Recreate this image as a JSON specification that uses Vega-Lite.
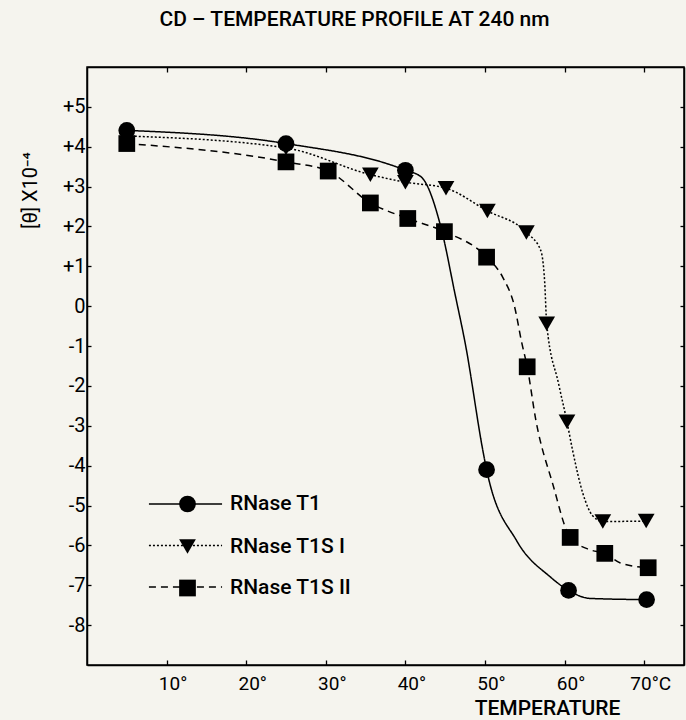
{
  "$schema": "https://vega.github.io/schema/vega-lite/v6.json",
  "width": 597,
  "height": 598,
  "autosize": {"type": "none"},
  "padding": {"left": 87, "top": 67, "right": 2, "bottom": 55},
  "background": "#f5f4ee",
  "config": {
    "font": "Roboto",
    "view": {"stroke": "black", "strokeWidth": 1.5},
    "axis": {"grid": false, "domainColor": "black", "domainWidth": 1.5, "tickColor": "black", "tickWidth": 1.3, "labelColor": "black", "titleColor": "black", "labelFont": "Roboto", "titleFont": "Roboto"}
  },
  "title": {
    "text": "CD – TEMPERATURE PROFILE AT 240 nm",
    "anchor": "middle",
    "dx": -31,
    "offset": 36,
    "fontSize": 21,
    "fontWeight": 500,
    "font": "Roboto",
    "color": "black"
  },
  "datasets": {
    "pts": [
      {"series": "RNase T1S I", "temp": 5, "theta": 4.27},
      {"series": "RNase T1S I", "temp": 25, "theta": 3.97},
      {"series": "RNase T1S I", "temp": 35.6, "theta": 3.3},
      {"series": "RNase T1S I", "temp": 40, "theta": 3.11},
      {"series": "RNase T1S I", "temp": 45.1, "theta": 2.96},
      {"series": "RNase T1S I", "temp": 50.3, "theta": 2.39},
      {"series": "RNase T1S I", "temp": 55.2, "theta": 1.85},
      {"series": "RNase T1S I", "temp": 57.75, "theta": -0.44},
      {"series": "RNase T1S I", "temp": 60.3, "theta": -2.9},
      {"series": "RNase T1S I", "temp": 64.8, "theta": -5.4},
      {"series": "RNase T1S I", "temp": 70.25, "theta": -5.39},
      {"series": "RNase T1S II", "temp": 5, "theta": 4.08},
      {"series": "RNase T1S II", "temp": 25, "theta": 3.62},
      {"series": "RNase T1S II", "temp": 30.3, "theta": 3.39},
      {"series": "RNase T1S II", "temp": 35.6, "theta": 2.59},
      {"series": "RNase T1S II", "temp": 40.3, "theta": 2.2},
      {"series": "RNase T1S II", "temp": 44.9, "theta": 1.87},
      {"series": "RNase T1S II", "temp": 50.2, "theta": 1.23},
      {"series": "RNase T1S II", "temp": 55.3, "theta": -1.52},
      {"series": "RNase T1S II", "temp": 60.7, "theta": -5.8},
      {"series": "RNase T1S II", "temp": 65.05, "theta": -6.2},
      {"series": "RNase T1S II", "temp": 70.5, "theta": -6.56},
      {"series": "RNase T1", "temp": 5, "theta": 4.41},
      {"series": "RNase T1", "temp": 25, "theta": 4.08},
      {"series": "RNase T1", "temp": 40, "theta": 3.41},
      {"series": "RNase T1", "temp": 50.2, "theta": -4.1},
      {"series": "RNase T1", "temp": 60.5, "theta": -7.13},
      {"series": "RNase T1", "temp": 70.3, "theta": -7.36}
    ],
    "curves": [
      {"series": "RNase T1", "temp": 5, "theta": 4.41},
      {"series": "RNase T1", "temp": 25, "theta": 4.08},
      {"series": "RNase T1", "temp": 40, "theta": 3.41},
      {"series": "RNase T1", "temp": 42, "theta": 3.24},
      {"series": "RNase T1", "temp": 44.5, "theta": 1.95},
      {"series": "RNase T1", "temp": 46.25, "theta": 0.29},
      {"series": "RNase T1", "temp": 47.55, "theta": -0.97},
      {"series": "RNase T1", "temp": 49.75, "theta": -3.64},
      {"series": "RNase T1", "temp": 50.2, "theta": -4.1},
      {"series": "RNase T1", "temp": 54, "theta": -5.89},
      {"series": "RNase T1", "temp": 58.2, "theta": -6.79},
      {"series": "RNase T1", "temp": 60.5, "theta": -7.13},
      {"series": "RNase T1", "temp": 63.2, "theta": -7.33},
      {"series": "RNase T1", "temp": 70.3, "theta": -7.36},
      {"series": "RNase T1S I", "temp": 5, "theta": 4.27},
      {"series": "RNase T1S I", "temp": 25, "theta": 3.97},
      {"series": "RNase T1S I", "temp": 35.6, "theta": 3.3},
      {"series": "RNase T1S I", "temp": 40, "theta": 3.11},
      {"series": "RNase T1S I", "temp": 45.1, "theta": 2.96},
      {"series": "RNase T1S I", "temp": 50.3, "theta": 2.39},
      {"series": "RNase T1S I", "temp": 55.2, "theta": 1.85},
      {"series": "RNase T1S I", "temp": 57, "theta": 1.4},
      {"series": "RNase T1S I", "temp": 57.5, "theta": 0.6},
      {"series": "RNase T1S I", "temp": 57.75, "theta": -0.44},
      {"series": "RNase T1S I", "temp": 59.25, "theta": -1.95},
      {"series": "RNase T1S I", "temp": 60.3, "theta": -2.9},
      {"series": "RNase T1S I", "temp": 61, "theta": -3.61},
      {"series": "RNase T1S I", "temp": 62.3, "theta": -4.7},
      {"series": "RNase T1S I", "temp": 63.5, "theta": -5.25},
      {"series": "RNase T1S I", "temp": 64.8, "theta": -5.4},
      {"series": "RNase T1S I", "temp": 70.25, "theta": -5.39},
      {"series": "RNase T1S II", "temp": 5, "theta": 4.08},
      {"series": "RNase T1S II", "temp": 25, "theta": 3.62},
      {"series": "RNase T1S II", "temp": 30.3, "theta": 3.39},
      {"series": "RNase T1S II", "temp": 35.6, "theta": 2.59},
      {"series": "RNase T1S II", "temp": 40.3, "theta": 2.2},
      {"series": "RNase T1S II", "temp": 44.9, "theta": 1.87},
      {"series": "RNase T1S II", "temp": 50.2, "theta": 1.23},
      {"series": "RNase T1S II", "temp": 52.3, "theta": 0.7},
      {"series": "RNase T1S II", "temp": 53.7, "theta": 0},
      {"series": "RNase T1S II", "temp": 54.6, "theta": -0.9},
      {"series": "RNase T1S II", "temp": 55.3, "theta": -1.52},
      {"series": "RNase T1S II", "temp": 56.4, "theta": -2.87},
      {"series": "RNase T1S II", "temp": 58.5, "theta": -4.45},
      {"series": "RNase T1S II", "temp": 60.7, "theta": -5.8},
      {"series": "RNase T1S II", "temp": 63.2, "theta": -6.11},
      {"series": "RNase T1S II", "temp": 65.05, "theta": -6.2},
      {"series": "RNase T1S II", "temp": 67, "theta": -6.44},
      {"series": "RNase T1S II", "temp": 70.5, "theta": -6.56}
    ]
  },
  "resolve": {"axis": {"x": "independent", "y": "independent"}},
  "layer": [
    {
      "mark": {"type": "rule", "color": "black", "strokeWidth": 1.3},
      "encoding": {
        "y": {"datum": 0, "type": "quantitative", "scale": {"domain": [-9, 6]}, "axis": null}
      }
    },
    {
      "data": {"name": "curves"},
      "mark": {"type": "line", "color": "black", "strokeWidth": 1.5, "interpolate": "monotone"},
      "encoding": {
        "x": {"field": "temp", "type": "quantitative", "scale": {"domain": [0, 75], "nice": false},
              "axis": {"orient": "top", "values": [10, 20, 30, 40, 50, 60, 70], "labels": false, "title": null, "tickSize": -5}},
        "y": {"field": "theta", "type": "quantitative", "scale": {"domain": [-9, 6], "nice": false},
              "axis": {"orient": "right", "values": [-8, -7, -6, -5, -4, -3, -2, -1, 0, 1, 2, 3, 4, 5], "labels": false, "title": null, "tickSize": -4}},
        "strokeDash": {
          "field": "series", "type": "nominal",
          "scale": {"range": [[1, 0], [2, 2], [7, 5]]},
          "legend": {"orient": "none", "legendX": 88, "legendY": 426.6, "title": null, "symbolType": "M-4.37,0H4.37",
                     "symbolSize": 280, "symbolStrokeWidth": 1.5, "symbolStrokeColor": "black",
                     "labelExpr": "''", "labelFontSize": 21, "rowPadding": 19.5, "padding": 0}
        }
      }
    },
    {
      "data": {"name": "pts"},
      "mark": {"type": "point", "filled": true, "color": "black", "opacity": 1, "size": 280},
      "encoding": {
        "x": {"field": "temp", "type": "quantitative", "scale": {"domain": [0, 75], "nice": false},
              "axis": {"orient": "bottom", "values": [10, 20, 30, 40, 50, 60, 70], "tickSize": -5,
                       "labelExpr": "datum.value == 70 ? '70°C' : datum.value + '°'", "labelFontSize": 19,
                       "labelAlign": "center", "labelOffset": 6, "labelPadding": 14,
                       "title": "TEMPERATURE", "titleFontSize": 21, "titleFontWeight": 500,
                       "titleX": 460, "titleY": 49, "titleBaseline": "alphabetic", "titleAlign": "center"}},
        "y": {"field": "theta", "type": "quantitative", "scale": {"domain": [-9, 6], "nice": false},
              "axis": {"orient": "left", "values": [-8, -7, -6, -5, -4, -3, -2, -1, 0, 1, 2, 3, 4, 5], "tickSize": -4,
                       "labelExpr": "datum.value > 0 ? '+' + datum.value : (datum.value < 0 ? '-' + abs(datum.value) : '0')",
                       "labelFontSize": 20, "labelPadding": 6,
                       "title": "[θ] X10⁻⁴", "titleFontSize": 20, "titleFontWeight": "normal",
                       "titleX": -57, "titleY": 123, "titleAngle": 270, "titleAlign": "center", "titleBaseline": "middle"}},
        "shape": {
          "field": "series", "type": "nominal",
          "scale": {"range": ["circle", "triangle-down", "square"]},
          "legend": {"orient": "none", "legendX": 90, "legendY": 426.5, "title": null,
                     "symbolSize": 280, "symbolFillColor": "black", "symbolStrokeColor": "black", "symbolOpacity": 1,
                     "labelFontSize": 21, "labelColor": "black", "labelOffset": 32, "rowPadding": 19.5, "padding": 0,
                     "labelFont": "Roboto", "labelFontWeight": 500}
        }
      }
    }
  ]
}
